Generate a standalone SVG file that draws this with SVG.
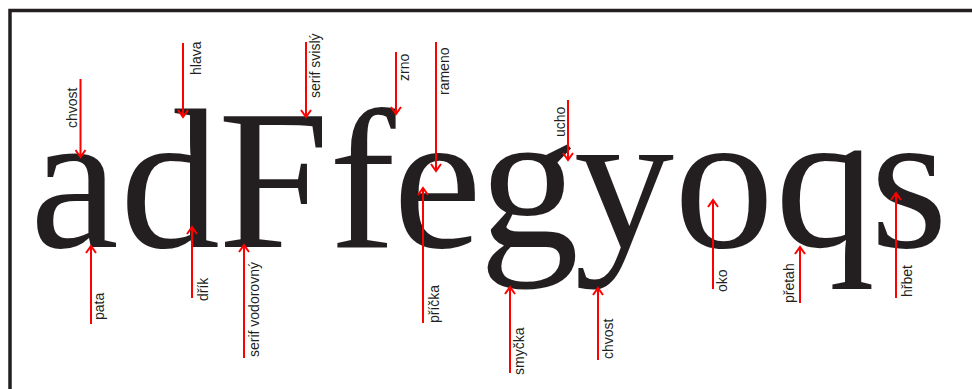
<svg xmlns="http://www.w3.org/2000/svg" width="972" height="389" viewBox="0 0 972 389">
<defs>
<style>
.lbl{font-family:"Liberation Sans",Arial,sans-serif;font-size:14px;fill:#231f20}
.glyphs{font-family:"Liberation Serif","Times New Roman",serif;font-size:200px;fill:#231f20}
.ar{stroke:#ff0000;stroke-width:2;fill:none;marker-end:url(#ah)}
</style>
<marker id="ah" markerUnits="userSpaceOnUse" markerWidth="16" markerHeight="16" refX="0" refY="0" viewBox="-9 -8 12 16" orient="auto" overflow="visible">
<path d="M-7,-5 L0,0 L-7,5" fill="none" stroke="#ff0000" stroke-width="2"/>
</marker>
</defs>
<rect x="0" y="0" width="972" height="389" fill="#ffffff"/>
<rect id="frame" x="10" y="10.5" width="1000" height="420" fill="none" stroke="#231f20" stroke-width="3.5"/>
<g id="specimen">
<text class="glyphs" x="30 120 218 329 393 479 574 674 775 870" y="247">adFfegyoqs</text>
</g>
<g id="connectors">
<line class="ar" x1="80.5" y1="79" x2="80.5" y2="157"/>
<line class="ar" x1="183" y1="43" x2="183" y2="117"/>
<line class="ar" x1="306" y1="42" x2="306" y2="117"/>
<line class="ar" x1="396" y1="52" x2="396" y2="114"/>
<line class="ar" x1="436" y1="42" x2="436" y2="171"/>
<line class="ar" x1="568" y1="100" x2="568" y2="160"/>
<line class="ar" x1="91" y1="324" x2="91" y2="246"/>
<line class="ar" x1="192" y1="298" x2="192" y2="227"/>
<line class="ar" x1="244" y1="358" x2="244" y2="245"/>
<line class="ar" x1="423" y1="323" x2="423" y2="188"/>
<line class="ar" x1="510" y1="373" x2="510" y2="287"/>
<line class="ar" x1="598" y1="360" x2="598" y2="288"/>
<line class="ar" x1="713" y1="289" x2="713" y2="200"/>
<line class="ar" x1="800" y1="303" x2="800" y2="247"/>
<line class="ar" x1="896" y1="298" x2="896" y2="193"/>
</g>
<g id="label-chvost-a"><text class="lbl" transform="translate(77,128) rotate(-90)">chvost</text></g>
<g id="label-hlava"><text class="lbl" transform="translate(201,75) rotate(-90)">hlava</text></g>
<g id="label-serif-svisly"><text class="lbl" transform="translate(320,98) rotate(-90)">serif svislý</text></g>
<g id="label-zrno"><text class="lbl" transform="translate(409,81) rotate(-90)">zrno</text></g>
<g id="label-rameno"><text class="lbl" transform="translate(449,95) rotate(-90)">rameno</text></g>
<g id="label-ucho"><text class="lbl" transform="translate(565,137) rotate(-90)">ucho</text></g>
<g id="label-pata"><text class="lbl" transform="translate(104,320) rotate(-90)">pata</text></g>
<g id="label-drik"><text class="lbl" transform="translate(208,301) rotate(-90)">dřík</text></g>
<g id="label-serif-vodorovny"><text class="lbl" transform="translate(259,357) rotate(-90)">serif vodorovný</text></g>
<g id="label-pricka"><text class="lbl" transform="translate(439,323) rotate(-90)">příčka</text></g>
<g id="label-smycka"><text class="lbl" transform="translate(524,375) rotate(-90)">smyčka</text></g>
<g id="label-chvost-y"><text class="lbl" transform="translate(613,359) rotate(-90)">chvost</text></g>
<g id="label-oko"><text class="lbl" transform="translate(727,292) rotate(-90)">oko</text></g>
<g id="label-pretah"><text class="lbl" transform="translate(794,303) rotate(-90)">přetah</text></g>
<g id="label-hrbet"><text class="lbl" transform="translate(912,297) rotate(-90)">hřbet</text></g>
</svg>
